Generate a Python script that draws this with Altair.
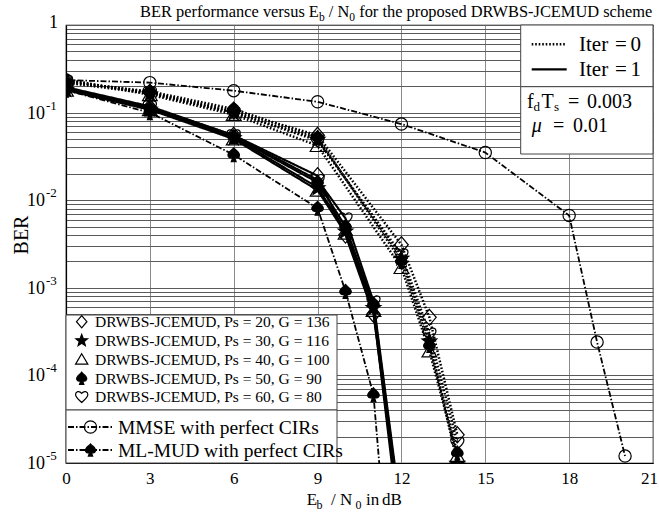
import altair as alt
import pandas as pd
import numpy as np

W, H = 587, 438
FONT = "Liberation Serif"

# ---------------- data ----------------
configs = ["Ps20", "Ps30", "Ps40", "Ps50", "Ps60"]
config_labels = [
    "DRWBS-JCEMUD, Ps = 20, G = 136",
    "DRWBS-JCEMUD, Ps = 30, G = 116",
    "DRWBS-JCEMUD, Ps = 40, G = 100",
    "DRWBS-JCEMUD, Ps = 50, G = 90",
    "DRWBS-JCEMUD, Ps = 60, G = 80",
]
config_markers = ["diamond", "star", "triangle", "spade", "heart"]

ebn0_iter1 = [0, 3, 6, 9, 10, 11, 12]
ber_iter1_ps20 = [0.190, 0.115, 0.055, 0.0190, 0.0040, 5.0e-4, 2.0e-6]
ber_iter1_ps30 = [0.185, 0.110, 0.052, 0.0140, 0.0045, 6.0e-4, 1.5e-6]
ber_iter1_ps40 = [0.180, 0.108, 0.050, 0.0130, 0.0042, 5.5e-4, 1.2e-6]
ber_iter1_ps50 = [0.190, 0.112, 0.053, 0.0160, 0.0050, 6.5e-4, 2.2e-6]
ber_iter1_ps60 = [0.195, 0.118, 0.055, 0.0170, 0.0062, 7.0e-4, 2.5e-6]

ebn0_iter0 = [0, 3, 6, 9, 12, 13, 14]
ber_iter0_ps20 = [0.230, 0.170, 0.105, 0.055, 0.0031, 4.6e-4, 2.1e-5]
ber_iter0_ps30 = [0.220, 0.165, 0.100, 0.050, 0.0022, 2.5e-4, 1.0e-5]
ber_iter0_ps40 = [0.240, 0.160, 0.095, 0.042, 0.0017, 1.9e-4, 1.2e-5]
ber_iter0_ps50 = [0.220, 0.175, 0.110, 0.052, 0.0020, 2.2e-4, 1.3e-5]
ber_iter0_ps60 = [0.230, 0.170, 0.100, 0.048, 0.0024, 3.0e-4, 1.7e-5]

ebn0_mmse = [0, 3, 6, 9, 12, 15, 18, 19, 20]
ber_mmse = [0.235, 0.220, 0.178, 0.133, 0.074, 0.035, 0.0067, 2.4e-4, 1.2e-5]

ebn0_ml = [0, 3, 6, 9, 10, 11, 12]
ber_ml = [0.180, 0.100, 0.033, 0.0081, 9.1e-4, 6.0e-5, 1.0e-8]

x_ticks = [0, 3, 6, 9, 12, 15, 18, 21]
y_decades = [1, 1e-1, 1e-2, 1e-3, 1e-4, 1e-5]
y_exponents = ["0", "-1", "-2", "-3", "-4", "-5"]

ref_labels = ["MMSE with perfect CIRs", "ML-MUD with perfect CIRs"]

iter1 = [ber_iter1_ps20, ber_iter1_ps30, ber_iter1_ps40, ber_iter1_ps50, ber_iter1_ps60]
iter0 = [ber_iter0_ps20, ber_iter0_ps30, ber_iter0_ps40, ber_iter0_ps50, ber_iter0_ps60]

rows = []
for cfg, mk, b1, b0 in zip(configs, config_markers, iter1, iter0):
    for x, b in zip(ebn0_iter1, b1):
        rows.append({"x": x, "ber": b, "series": cfg + "_it1", "style": "iter1", "marker": mk})
    for x, b in zip(ebn0_iter0, b0):
        rows.append({"x": x, "ber": b, "series": cfg + "_it0", "style": "iter0", "marker": mk})
for x, b in zip(ebn0_mmse, ber_mmse):
    rows.append({"x": x, "ber": b, "series": "mmse", "style": "ref", "marker": "circle"})
for x, b in zip(ebn0_ml, ber_ml):
    rows.append({"x": x, "ber": b, "series": "ml", "style": "ref", "marker": "spade"})
df = pd.DataFrame(rows)

# ---------------- marker shapes ----------------
def star_path(n=5, r_out=1.0, r_in=0.42):
    pts = []
    for i in range(2 * n):
        r = r_out if i % 2 == 0 else r_in
        a = -np.pi / 2 + i * np.pi / n
        pts.append((r * np.cos(a), r * np.sin(a) + 0.1))
    return "M" + "L".join(f"{px:.3f},{py:.3f}" for px, py in pts) + "Z"

marker_names = ["diamond", "star", "triangle", "spade", "heart", "circle"]
marker_paths = [
    "M0,-1L0.85,0L0,1L-0.85,0Z",
    star_path(),
    "M0,-0.9L1,0.8L-1,0.8Z",
    "M0,-1C0.3,-0.6 1,-0.3 0.8,0.2C0.65,0.55 0.25,0.5 0.1,0.3L0.35,1L-0.35,1L-0.1,0.3C-0.25,0.5 -0.65,0.55 -0.8,0.2C-1,-0.3 -0.3,-0.6 0,-1Z",
    "M0,0.95C-0.4,0.55 -1,0.2 -1,-0.35C-1,-0.85 -0.4,-1.05 0,-0.55C0.4,-1.05 1,-0.85 1,-0.35C1,0.2 0.4,0.55 0,0.95Z",
    "circle",
]
marker_sizes = [260, 150, 190, 110, 200, 100]
marker_fills = ["transparent", "black", "transparent", "black", "transparent", "transparent"]

styles = ["iter0", "iter1", "ref"]
style_dash = [[1.6, 1.9], [1, 0], [6, 2, 1.5, 2]]
style_width = [2.5, 1.8, 1.0]

shape_scale = alt.Scale(domain=marker_names, range=marker_paths)
size_scale = alt.Scale(domain=marker_names, range=marker_sizes)
fill_scale = alt.Scale(domain=marker_names, range=marker_fills)
dash_scale = alt.Scale(domain=styles, range=style_dash)
width_scale = alt.Scale(domain=styles, range=style_width)

xs = alt.Scale(domain=[0, 21], nice=False, zero=False)
ys = alt.Scale(type="log", domain=[1e-5, 1], nice=False)

minor_vals = [m * 10.0 ** e for e in range(-5, 0) for m in range(1, 10)] + [1.0]

# ---------------- data layers ----------------
lines = alt.Chart(df).mark_line(clip=True, color="black").encode(
    x=alt.X("x:Q", scale=xs, axis=alt.Axis(
        values=x_ticks, grid=True, gridColor="#8a8a8a", gridWidth=1, ticks=False,
        labelFont=FONT, labelFontSize=17, labelColor="black", labelPadding=7,
        labelFlush=False, labelOffset={"expr": "datum.value == 21 ? -4 : 0"},
        title=None, domainColor="black", domainWidth=1.2)),
    y=alt.Y("ber:Q", scale=ys, axis=alt.Axis(
        values=minor_vals, grid=True, gridColor="#5a5a5a", gridWidth=1, ticks=False,
        labels=False, title=None, domainColor="black", domainWidth=1.2)),
    detail="series:N",
    strokeDash=alt.StrokeDash("style:N", scale=dash_scale, legend=None),
    strokeWidth=alt.StrokeWidth("style:O", scale=width_scale, legend=None),
)

points = alt.Chart(df).mark_point(clip=True, filled=True, stroke="black", strokeWidth=1.2, opacity=1).encode(
    x=alt.X("x:Q", scale=xs, axis=None),
    y=alt.Y("ber:Q", scale=ys, axis=None),
    shape=alt.Shape("marker:N", scale=shape_scale, legend=None),
    size=alt.Size("marker:O", scale=size_scale, legend=None),
    fill=alt.Fill("marker:N", scale=fill_scale, legend=None),
)

# ---------------- y tick labels ----------------
ylab = pd.DataFrame({"val": y_decades[1:], "base": ["10"] * 5, "exp": y_exponents[1:]})
ylab_base = alt.Chart(ylab).mark_text(align="right", baseline="middle", font=FONT, fontSize=18, color="black", dy=1).encode(
    x=alt.value(-21), y=alt.Y("val:Q", scale=ys, axis=None), text="base:N")
ylab_exp = alt.Chart(ylab).mark_text(align="left", baseline="middle", font=FONT, fontSize=13, color="black", dy=-7).encode(
    x=alt.value(-20), y=alt.Y("val:Q", scale=ys, axis=None), text="exp:N")
ylab_one = alt.Chart(pd.DataFrame({"val": [1.0], "t": ["1"]})).mark_text(
    align="right", baseline="middle", font=FONT, fontSize=18, color="black", dy=-2).encode(
    x=alt.value(-8), y=alt.Y("val:Q", scale=ys, axis=None), text="t:N")

# ---------------- text helpers ----------------
TW = {" ": 250, "/": 278, "-": 333, ".": 250, "=": 564, ",": 250,
      "A": 722, "B": 667, "C": 667, "D": 722, "E": 611, "F": 556, "G": 722, "H": 722, "I": 333,
      "J": 389, "K": 722, "L": 611, "M": 889, "N": 722, "O": 722, "P": 556, "R": 667, "S": 556,
      "T": 611, "U": 722, "W": 944,
      "a": 444, "b": 500, "c": 444, "d": 500, "e": 444, "f": 333, "g": 500, "h": 500, "i": 278,
      "l": 278, "m": 778, "n": 500, "o": 500, "p": 500, "r": 333, "s": 389, "t": 278, "u": 500,
      "v": 500, "w": 722}

def text_width(s, fs):
    return sum(TW.get(c, 500) for c in s) * fs / 1000.0

def flow(parts, x0, y0):
    """Lay out text segments one after another (leading spaces become offsets)."""
    out = []
    x = x0
    for txt, fs, dy in parts:
        lead = len(txt) - len(txt.lstrip(" "))
        core = txt.strip(" ")
        out.append({"px": x + text_width(" " * lead, fs), "py": y0 + dy, "text": core, "fs": fs})
        x += text_width(txt, fs)
    return out

def placed(parts, y0):
    """Segments at explicit x positions: (text, size, x, dy)."""
    return [{"px": px, "py": y0 + dy, "text": t, "fs": fs} for t, fs, px, dy in parts]

MU_BASE = 107
ann = []
ann += flow([("BER performance versus E", 16.4, 0), ("b", 11.5, 3.5), (" / N", 16.4, 0), ("0", 11.5, 3.5),
             (" for the proposed DRWBS-JCEMUD scheme", 16.4, 0)], 74, -8)
ann += placed([("E", 17, 240.7, 0), ("b", 12, 250.5, 4), ("/", 17, 265, 0), ("N", 17, 274, 0),
               ("0", 12, 289.5, 4), ("in", 17, 300, 0), ("dB", 17, 316, 0)], 480)
ann += placed([("f", 20, 461, 0), ("d", 13, 467.5, 2.5), ("T", 20, 475.5, 0), ("s", 13, 488, 2.5),
               ("=", 20, 502, 0), ("0.003", 20, 521, 0)], 83)
ann += placed([("=", 20, 487, 0), ("0.01", 20, 507, 0)], MU_BASE)
ann += placed([("Iter", 21, 513, 0), ("=", 21, 549, 0), ("0", 21, 564.5, 0)], 25.5)
ann += placed([("Iter", 21, 513, 0), ("=", 21, 549, 0), ("1", 21, 564.5, 0)], 50.5)
leg_rows_y = [296.7, 315.0, 334.3, 353.3, 371.7]
for lab, yy in zip(config_labels, leg_rows_y):
    ann += flow([(lab, 15.5, 0)], 29, yy + 5.5)
for lab, yy in zip(ref_labels, [402, 425]):
    ann += flow([(lab, 19.5, 0)], 52, yy + 7)
ann_df = pd.DataFrame(ann)

# ---------------- legend geometry ----------------
boxes = pd.DataFrame({
    "x1": [454.7, 454.7, 0, 0], "x2": [587, 587, 271, 271],
    "y1": [0, 61.7, 290, 385], "y2": [61.7, 129, 385, 438]})
box_layer = alt.Chart(boxes).mark_rect(fill="white", stroke="#444", strokeWidth=1).encode(
    x=alt.X("x1:Q", scale=None), x2="x2:Q", y=alt.Y("y1:Q", scale=None), y2="y2:Q")

leg_lines = pd.DataFrame({
    "x1": [465.7, 465.7, 2, 2], "x2": [500.7, 500.7, 47, 47],
    "y": [19.3, 44.3, 402, 425], "style": ["iter0", "iter1", "ref", "ref"]})
leg_line_layer = alt.Chart(leg_lines).mark_rule(color="black").encode(
    x=alt.X("x1:Q", scale=None), x2="x2:Q", y=alt.Y("y:Q", scale=None),
    strokeDash=alt.StrokeDash("style:N", scale=dash_scale, legend=None),
    strokeWidth=alt.StrokeWidth("style:O", scale=width_scale, legend=None))

leg_marks = pd.DataFrame({
    "px": [15.7] * 5 + [24.5, 24.5],
    "py": leg_rows_y + [402, 425],
    "marker": config_markers + ["circle", "spade"]})
leg_mark_layer = alt.Chart(leg_marks).mark_point(filled=True, stroke="black", strokeWidth=1.2, opacity=1).encode(
    x=alt.X("px:Q", scale=None), y=alt.Y("py:Q", scale=None),
    shape=alt.Shape("marker:N", scale=shape_scale, legend=None),
    fill=alt.Fill("marker:N", scale=fill_scale, legend=None),
    size=alt.value(150))

ann_layer = alt.Chart(ann_df).mark_text(align="left", baseline="alphabetic", font=FONT, color="black").encode(
    x=alt.X("px:Q", scale=None), y=alt.Y("py:Q", scale=None), text="text:N",
    size=alt.Size("fs:Q", scale=None, legend=None))

mu_layer = alt.Chart(pd.DataFrame({"px": [465.7], "py": [MU_BASE], "t": ["\u03bc"]})).mark_text(
    align="left", baseline="alphabetic", font=FONT, fontStyle="italic", fontSize=20, color="black").encode(
    x=alt.X("px:Q", scale=None), y=alt.Y("py:Q", scale=None), text="t:N")

ber_title = alt.Chart(pd.DataFrame({"px": [-44], "py": [210], "t": ["BER"]})).mark_text(
    align="center", baseline="middle", font=FONT, fontSize=20, angle=270, color="black").encode(
    x=alt.X("px:Q", scale=None), y=alt.Y("py:Q", scale=None), text="t:N")

chart = alt.layer(
    lines, points, ylab_base, ylab_exp, ylab_one,
    box_layer, leg_line_layer, leg_mark_layer, ann_layer, mu_layer, ber_title,
).resolve_scale(x="independent", y="independent", size="independent").properties(
    width=W, height=H,
    autosize=alt.AutoSizeParams(type="none"),
    padding={"left": 66, "top": 25, "right": 6, "bottom": 50},
    background="white",
).configure_view(stroke="black", strokeWidth=1.2)

chart.save("out.html", embed_options={"renderer": "svg", "actions": False})
